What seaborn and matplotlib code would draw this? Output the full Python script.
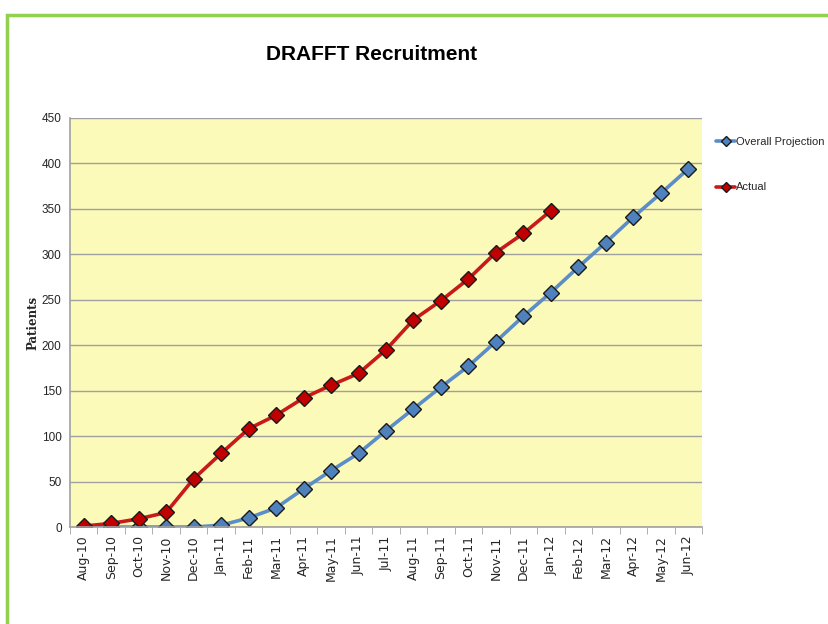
import matplotlib
matplotlib.use('Agg')
import matplotlib.pyplot as plt
import matplotlib.patches as patches
import seaborn as sns
import numpy as np
import pandas as pd

# data
months = ['Aug-10', 'Sep-10', 'Oct-10', 'Nov-10', 'Dec-10',
          'Jan-11', 'Feb-11', 'Mar-11', 'Apr-11', 'May-11', 'Jun-11',
          'Jul-11', 'Aug-11', 'Sep-11', 'Oct-11', 'Nov-11', 'Dec-11',
          'Jan-12', 'Feb-12', 'Mar-12', 'Apr-12', 'May-12', 'Jun-12']
projection = [0, 0, 0, 0, 0, 2, 10, 21, 42, 62, 81, 106, 130, 154, 177,
              204, 232, 258, 286, 313, 341, 367, 394]
actual = [1, 4, 9, 16, 53, 81, 108, 123, 142, 156, 169, 195, 228, 249,
          273, 302, 323, 348]

proj_df = pd.DataFrame({'month': months, 'patients': projection})
act_df = pd.DataFrame({'month': months[:len(actual)], 'patients': actual})

sns.set_style('white')
plt.rcParams['font.family'] = ['DejaVu Sans']

fig = plt.figure(figsize=(8.29, 6.24), dpi=100)
ax = fig.add_axes([0.0844, 0.1554, 0.7624, 0.6555])
ax.set_facecolor('#FCFAB8')

sns.lineplot(data=proj_df, x='month', y='patients', ax=ax, sort=False,
             color='#5B8DC8', linewidth=2.6, marker='D', markersize=8,
             markerfacecolor='#4F81BD', markeredgecolor='#1a1a1a',
             markeredgewidth=1.0, label='Overall Projection')
sns.lineplot(data=act_df, x='month', y='patients', ax=ax, sort=False,
             color='#C81A1A', linewidth=2.6, marker='D', markersize=8,
             markerfacecolor='#C00000', markeredgecolor='#1a1a1a',
             markeredgewidth=1.0, label='Actual')

ax.set_xlim(-0.5, len(months) - 0.5)
ax.set_ylim(0, 450)
ax.set_yticks(np.arange(0, 451, 50))
ax.yaxis.grid(True, color='#A0A0A0', linewidth=1.0)
ax.set_axisbelow(True)

ax.set_xticks(range(len(months)))
ax.set_xticklabels(months, rotation=90, fontsize=9)
ax.set_xticks(np.arange(-0.5, len(months), 1), minor=True)
ax.tick_params(axis='x', which='major', length=0, pad=6)
ax.tick_params(axis='x', which='minor', length=5, color='#A0A0A0', direction='out', bottom=True)
ax.tick_params(axis='y', length=4, color='#A0A0A0', direction='out', pad=2)
for lbl in ax.get_yticklabels():
    lbl.set_family('Liberation Sans')
    lbl.set_fontsize(8.5)

for s in ['top', 'right']:
    ax.spines[s].set_visible(False)
for s in ['left', 'bottom']:
    ax.spines[s].set_color('#A0A0A0')
    ax.spines[s].set_linewidth(1.2)

ax.set_xlabel('')
ax.set_ylabel('Patients', fontsize=8.5, fontweight='bold', family='DejaVu Serif', labelpad=2)

leg = ax.legend(loc='upper left', bbox_to_anchor=(1.012, 0.97), frameon=False,
                prop={'family': 'Liberation Sans', 'size': 8},
                handlelength=1.7, handletextpad=0.1, borderaxespad=0.2,
                labelspacing=3.2, markerscale=0.7)

fig.text(0.448, 0.913, 'DRAFFT Recruitment', ha='center', va='center',
         fontsize=15, fontweight='bold', family='Liberation Sans', color='black')

# green frame around the chart area
frame = patches.Rectangle((0.008, -0.1), 1.2, 1.076, transform=fig.transFigure,
                          fill=False, edgecolor='#92D050', linewidth=2.5)
fig.patches.append(frame)

fig.savefig('out.png', dpi=100)
